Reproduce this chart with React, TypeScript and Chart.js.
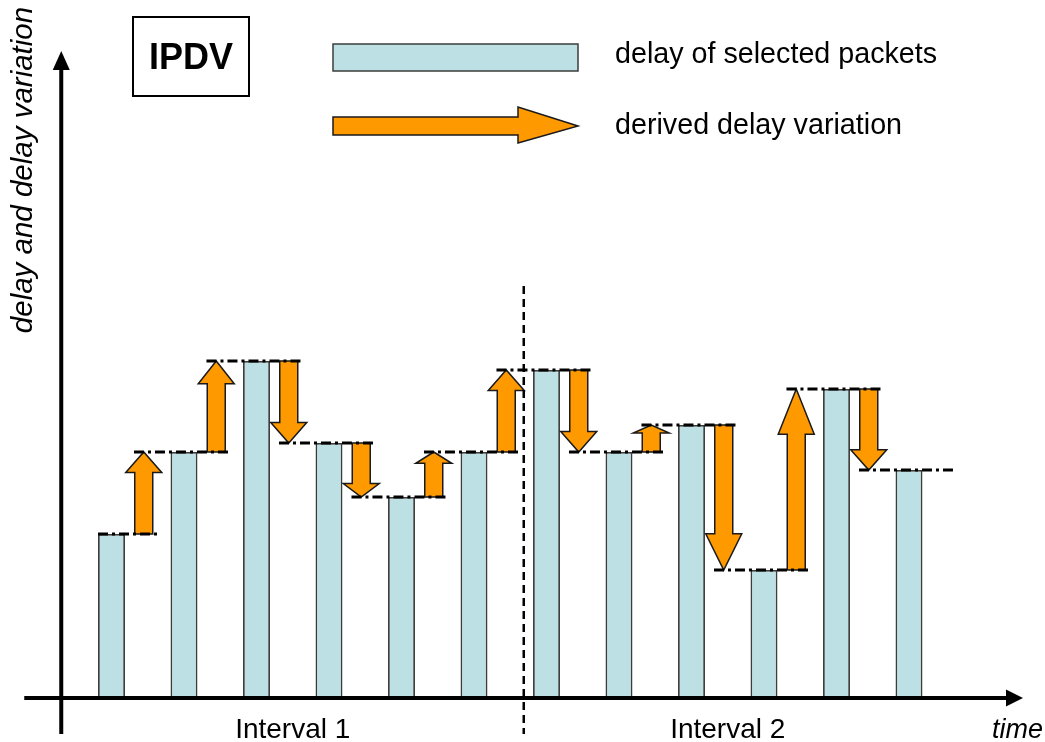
import React, { useEffect, useRef } from "react";
import { Chart, registerables } from "chart.js";

Chart.register(...registerables);

// ---- data ----
const packets = ["p1", "p2", "p3", "p4", "p5", "p6", "p7", "p8", "p9", "p10", "p11", "p12"];
const delays = [16.3, 24.5, 33.6, 25.4, 20.0, 24.5, 32.7, 24.5, 27.2, 12.7, 30.8, 22.7];
const intervalLabels = ["Interval 1", "Interval 2"];
const packetsPerInterval = 6;
const legendLabels = ["delay of selected packets", "derived delay variation"];
const yTitle = "delay and delay variation";
const xTitle = "time";
const boxTitle = "IPDV";

// ---- styles ----
const BAR_FILL = "#BCE0E3";
const BAR_EDGE = "#3c3c3c";
const ARROW_FILL = "#FF9900";
const INK = "#000000";
const FONT = '"Liberation Sans", Arial, sans-serif';

function drawVArrow(ctx: CanvasRenderingContext2D, x: number, y0: number, y1: number) {
  const len = Math.abs(y1 - y0);
  const dir = y1 < y0 ? -1 : 1;
  const head = Math.max(8, len * 0.25);
  const sw = 9;
  const hw = 18;
  const yh = y1 - dir * head;
  ctx.beginPath();
  ctx.moveTo(x - sw, y0);
  ctx.lineTo(x - sw, yh);
  ctx.lineTo(x - hw, yh);
  ctx.lineTo(x, y1);
  ctx.lineTo(x + hw, yh);
  ctx.lineTo(x + sw, yh);
  ctx.lineTo(x + sw, y0);
  ctx.closePath();
  ctx.fillStyle = ARROW_FILL;
  ctx.fill();
  ctx.lineWidth = 1.5;
  ctx.strokeStyle = "#1a1a1a";
  ctx.setLineDash([]);
  ctx.stroke();
}

const decorPlugin = {
  id: "ipdvDecor",
  afterDatasetsDraw(chart: any) {
    const ctx: CanvasRenderingContext2D = chart.ctx;
    const xs = chart.scales.x;
    const ys = chart.scales.y;
    const area = chart.chartArea;
    const meta = chart.getDatasetMeta(0);
    const barW = meta.data[0].width;
    const step = xs.getPixelForValue(1) - xs.getPixelForValue(0);
    const base = ys.getPixelForValue(0);
    ctx.save();

    // derived variation arrows
    for (let i = 1; i < delays.length; i++) {
      const x = (xs.getPixelForValue(i - 1) + xs.getPixelForValue(i)) / 2 - 4;
      drawVArrow(ctx, x, ys.getPixelForValue(delays[i - 1]), ys.getPixelForValue(delays[i]));
    }

    // dash-dot level lines
    ctx.setLineDash([10, 4, 3, 4]);
    ctx.lineWidth = 3;
    ctx.strokeStyle = INK;
    for (let i = 0; i < delays.length; i++) {
      const cx = xs.getPixelForValue(i);
      const y = ys.getPixelForValue(delays[i]);
      const x0 = i === 0 ? cx - barW / 2 : cx - step * 0.69;
      const x1 = cx + step * 0.635;
      ctx.beginPath();
      ctx.moveTo(x0, y);
      ctx.lineTo(x1, y);
      ctx.stroke();
    }

    // interval divider
    const divX = (xs.getPixelForValue(packetsPerInterval - 1) + xs.getPixelForValue(packetsPerInterval)) / 2 + 13.5;
    ctx.setLineDash([8, 5]);
    ctx.lineWidth = 2.5;
    ctx.beginPath();
    ctx.moveTo(divX, 286);
    ctx.lineTo(divX, 734);
    ctx.stroke();

    // axes
    ctx.setLineDash([]);
    ctx.fillStyle = INK;
    ctx.lineWidth = 4;
    ctx.strokeStyle = INK;
    const axY = base + 1;
    ctx.beginPath();
    ctx.moveTo(area.left - 51, axY);
    ctx.lineTo(1008, axY);
    ctx.stroke();
    ctx.beginPath();
    ctx.moveTo(1006, axY - 8.5);
    ctx.lineTo(1023, axY);
    ctx.lineTo(1006, axY + 8.5);
    ctx.closePath();
    ctx.fill();
    const axX = area.left - 14;
    ctx.beginPath();
    ctx.moveTo(axX, 734);
    ctx.lineTo(axX, 68);
    ctx.stroke();
    ctx.beginPath();
    ctx.moveTo(axX - 8.5, 70);
    ctx.lineTo(axX, 51);
    ctx.lineTo(axX + 8.5, 70);
    ctx.closePath();
    ctx.fill();

    // IPDV box
    ctx.lineWidth = 2;
    ctx.strokeRect(133, 17, 116, 79);
    ctx.font = `bold 36px ${FONT}`;
    ctx.textAlign = "center";
    ctx.textBaseline = "alphabetic";
    ctx.fillText(boxTitle, 191, 69);

    // legend
    ctx.fillStyle = BAR_FILL;
    ctx.fillRect(333, 44, 245, 27);
    ctx.lineWidth = 1.5;
    ctx.strokeStyle = BAR_EDGE;
    ctx.strokeRect(333, 44, 245, 27);
    ctx.beginPath();
    ctx.moveTo(333, 117);
    ctx.lineTo(518, 117);
    ctx.lineTo(518, 107);
    ctx.lineTo(578, 126);
    ctx.lineTo(518, 143);
    ctx.lineTo(518, 135);
    ctx.lineTo(333, 135);
    ctx.closePath();
    ctx.fillStyle = ARROW_FILL;
    ctx.fill();
    ctx.strokeStyle = "#1a1a1a";
    ctx.stroke();

    ctx.fillStyle = INK;
    ctx.font = `28.7px ${FONT}`;
    ctx.textAlign = "left";
    ctx.fillText(legendLabels[0], 615, 63);
    ctx.fillText(legendLabels[1], 615, 134);

    // interval labels
    ctx.font = `28px ${FONT}`;
    ctx.textAlign = "center";
    intervalLabels.forEach((lab, k) => {
      const first = k * packetsPerInterval;
      const last = first + packetsPerInterval - 1;
      const cx = (xs.getPixelForValue(first) + xs.getPixelForValue(last)) / 2;
      ctx.fillText(lab, cx, 738);
    });

    // time label
    ctx.font = `italic 27px ${FONT}`;
    ctx.textAlign = "right";
    ctx.fillText(xTitle, 1043, 738);

    // y title
    ctx.font = `italic 29.5px ${FONT}`;
    ctx.translate(32, 170);
    ctx.rotate(-Math.PI / 2);
    ctx.textAlign = "center";
    ctx.fillText(yTitle, 0, 0);

    ctx.restore();
  },
};

export default function App() {
  const ref = useRef<HTMLCanvasElement | null>(null);
  useEffect(() => {
    if (!ref.current) return;
    const chart = new Chart(ref.current, {
      type: "bar",
      data: {
        labels: packets,
        datasets: [
          {
            label: legendLabels[0],
            data: delays,
            backgroundColor: BAR_FILL,
            borderColor: BAR_EDGE,
            borderWidth: 1.8,
            categoryPercentage: 1,
            barPercentage: 0.372,
          },
        ],
      },
      options: {
        responsive: false,
        animation: false,
        events: [],
        layout: { padding: { left: 75.25, right: 99.75, top: 297, bottom: 45 } },
        plugins: { legend: { display: false }, tooltip: { enabled: false }, title: { display: false } },
        scales: {
          x: { display: false, offset: true },
          y: { display: false, min: 0, max: 40 },
        },
      },
      plugins: [decorPlugin],
    });
    return () => chart.destroy();
  }, []);
  return (
    <div style={{ position: "fixed", left: 0, top: 0, width: 1045, height: 742, background: "#fff" }}>
      <canvas ref={ref} width={1045} height={742} style={{ display: "block" }} />
    </div>
  );
}
